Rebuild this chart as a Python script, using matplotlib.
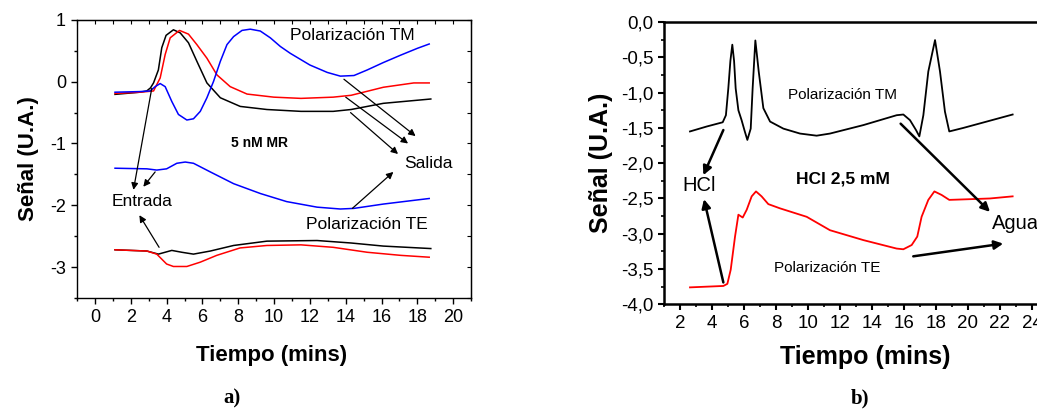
import matplotlib
matplotlib.use("Agg")
import matplotlib.pyplot as plt
from matplotlib.ticker import MultipleLocator, FuncFormatter

plt.rcParams['font.family'] = ['Liberation Sans', 'DejaVu Sans']
plt.rcParams['axes.unicode_minus'] = False

# ---------------- Panel a) 5 nM MR ----------------
t_a_tm_black = [1.12, 2.5, 2.89, 3.1, 3.27, 3.54, 3.73, 3.97, 4.38, 4.76, 5.22, 5.69, 6.25, 7.0, 8.11, 9.6, 11.5, 13.3, 14.3, 16.1, 18.75]
v_a_tm_black = [-0.205, -0.17, -0.15, -0.10, -0.02, 0.19, 0.55, 0.75, 0.84, 0.79, 0.63, 0.33, -0.02, -0.26, -0.40, -0.45, -0.48, -0.48, -0.45, -0.35, -0.28]

t_a_tm_red = [1.12, 2.5, 2.9, 3.27, 3.64, 3.92, 4.2, 4.72, 5.22, 5.69, 6.25, 6.81, 7.55, 8.49, 9.98, 11.5, 13.3, 14.3, 16.1, 17.8, 18.66]
v_a_tm_red = [-0.19, -0.17, -0.16, -0.15, 0.06, 0.44, 0.71, 0.83, 0.77, 0.60, 0.38, 0.11, -0.08, -0.20, -0.25, -0.27, -0.25, -0.22, -0.09, -0.02, -0.02]

t_a_tm_blue = [1.12, 2.5, 3.08, 3.36, 3.64, 3.92, 4.29, 4.66, 5.13, 5.5, 5.88, 6.25, 6.62, 7.0, 7.37, 7.74, 8.21, 8.67, 9.23, 9.79, 10.35, 10.9, 12.0, 12.97, 13.7, 14.46, 15.2, 16.1, 17.07, 18.0, 18.66]
v_a_tm_blue = [-0.17, -0.16, -0.15, -0.08, -0.03, -0.08, -0.32, -0.53, -0.62, -0.60, -0.48, -0.26, 0.005, 0.33, 0.60, 0.73, 0.83, 0.85, 0.82, 0.71, 0.57, 0.46, 0.27, 0.15, 0.09, 0.10, 0.19, 0.31, 0.43, 0.54, 0.61]

t_a_te_blue = [1.12, 2.9, 3.45, 4.0, 4.57, 5.04, 5.5, 6.44, 7.74, 9.24, 10.7, 12.4, 13.7, 14.46, 16.1, 17.8, 18.66]
v_a_te_blue = [-1.40, -1.41, -1.43, -1.41, -1.32, -1.30, -1.32, -1.46, -1.65, -1.81, -1.94, -2.03, -2.06, -2.05, -1.98, -1.92, -1.89]

t_a_te_black = [1.12, 2.9, 3.54, 4.29, 4.85, 5.5, 6.44, 7.74, 9.6, 12.4, 14.3, 16.1, 18.75]
v_a_te_black = [-2.72, -2.74, -2.79, -2.73, -2.76, -2.79, -2.74, -2.65, -2.58, -2.57, -2.61, -2.66, -2.70]

t_a_te_red = [1.12, 2.9, 3.45, 4.0, 4.38, 5.13, 5.88, 6.8, 8.1, 9.6, 11.5, 13.3, 15.2, 17.07, 18.66]
v_a_te_red = [-2.72, -2.74, -2.79, -2.95, -2.99, -2.99, -2.92, -2.81, -2.69, -2.65, -2.64, -2.68, -2.76, -2.81, -2.84]

# ---------------- Panel b) HCl 2,5 mM ----------------
t_b_tm = [2.625, 3.67, 4.67, 4.87, 5.02, 5.15, 5.27, 5.38, 5.48, 5.65, 5.85, 6.05, 6.21, 6.42, 6.54, 6.71, 6.92, 7.21, 7.63, 8.46, 9.5, 10.54, 11.375, 13.46, 15.54, 15.96, 16.375, 16.75, 16.96, 17.21, 17.52, 17.94, 18.25, 18.56, 18.83, 19.71, 21.17, 22.79]
v_b_tm = [-1.55, -1.48, -1.42, -1.32, -0.94, -0.55, -0.32, -0.55, -0.94, -1.25, -1.39, -1.55, -1.67, -1.51, -0.94, -0.26, -0.70, -1.22, -1.41, -1.51, -1.58, -1.61, -1.58, -1.46, -1.32, -1.31, -1.39, -1.53, -1.62, -1.32, -0.70, -0.255, -0.70, -1.27, -1.55, -1.50, -1.41, -1.31]

t_b_te = [2.625, 4.71, 4.96, 5.17, 5.44, 5.65, 5.92, 6.17, 6.48, 6.75, 7.1, 7.52, 8.25, 9.92, 11.375, 13.46, 15.54, 15.96, 16.48, 16.83, 17.1, 17.52, 17.9, 18.35, 18.83, 20.125, 21.375, 22.79]
v_b_te = [-3.76, -3.74, -3.71, -3.51, -3.04, -2.73, -2.77, -2.66, -2.47, -2.40, -2.47, -2.58, -2.64, -2.76, -2.95, -3.09, -3.21, -3.22, -3.16, -3.04, -2.76, -2.52, -2.40, -2.45, -2.52, -2.51, -2.50, -2.47]

x_ticks_a = list(range(0, 21, 2))
y_ticks_a = [1, 0, -1, -2, -3]
x_ticks_b = list(range(2, 25, 2))
y_ticks_b = [0.0, -0.5, -1.0, -1.5, -2.0, -2.5, -3.0, -3.5, -4.0]

fig = plt.figure(figsize=(10.37, 4.12), dpi=100)

# ---------- a) ----------
ax1 = fig.add_axes([0.0743, 0.2767, 0.380, 0.675])
ax1.plot(t_a_tm_black, v_a_tm_black, color='black', lw=1.1)
ax1.plot(t_a_tm_red, v_a_tm_red, color='red', lw=1.1)
ax1.plot(t_a_tm_blue, v_a_tm_blue, color='blue', lw=1.1)
ax1.plot(t_a_te_blue, v_a_te_blue, color='blue', lw=1.1)
ax1.plot(t_a_te_black, v_a_te_black, color='black', lw=1.1)
ax1.plot(t_a_te_red, v_a_te_red, color='red', lw=1.1)
ax1.set_xlim(-1, 21)
ax1.set_ylim(-3.5, 1)
ax1.set_xticks(x_ticks_a)
ax1.set_yticks(y_ticks_a)
ax1.xaxis.set_minor_locator(MultipleLocator(1))
ax1.yaxis.set_minor_locator(MultipleLocator(0.5))
ax1.tick_params(which='major', direction='out', length=4, width=1.0, labelsize=13, pad=4)
ax1.tick_params(which='minor', direction='out', length=2.5, width=1.0)
for s in ax1.spines.values():
    s.set_linewidth(1.0)
# mirrored inner ticks on the top and right axes
top1 = ax1.secondary_xaxis('top')
top1.set_xticks(x_ticks_a)
top1.xaxis.set_minor_locator(MultipleLocator(1))
top1.tick_params(which='both', direction='in', labeltop=False, length=3, width=0.8)
right1 = ax1.secondary_yaxis('right')
right1.set_yticks(y_ticks_a)
right1.yaxis.set_minor_locator(MultipleLocator(0.5))
right1.tick_params(which='both', direction='in', labelright=False, length=3, width=0.8)
ax1.set_ylabel('Señal (U.A.)', fontsize=16, fontweight='bold', labelpad=8)

arr_a = dict(arrowstyle='-|>', color='black', lw=0.9, mutation_scale=10, shrinkA=0, shrinkB=0)
for (x0, y0, x1, y1) in [(3.17, -0.11, 2.15, -1.75), (3.36, -1.46, 2.7, -1.70),
                         (3.58, -2.68, 2.48, -2.16), (13.9, 0.04, 17.9, -0.88),
                         (14.0, -0.25, 17.48, -1.0), (14.27, -0.50, 16.92, -1.17),
                         (14.37, -2.05, 16.66, -1.46)]:
    ax1.annotate('', xy=(x1, y1), xytext=(x0, y0), arrowprops=arr_a)

ax1.text(14.37, 0.74, 'Polarización TM', fontsize=12.5, ha='center', va='center')
ax1.text(18.64, -1.32, 'Salida', fontsize=12.5, ha='center', va='center')
ax1.text(2.65, -1.94, 'Entrada', fontsize=12.5, ha='center', va='center')
ax1.text(15.17, -2.31, 'Polarización TE', fontsize=12.5, ha='center', va='center')
ax1.text(9.18, -1.0, '5 nM MR', fontsize=10, fontweight='bold', ha='center', va='center')

# ---------- b) ----------
ax2 = fig.add_axes([0.6403, 0.2614, 0.3703, 0.685])
ax2.plot(t_b_tm, v_b_tm, color='black', lw=1.3)
ax2.plot(t_b_te, v_b_te, color='red', lw=1.3)
ax2.set_xlim(1, 25)
ax2.set_ylim(-4.0, 0.0)
ax2.set_xticks(x_ticks_b)
ax2.set_yticks(y_ticks_b)
ax2.xaxis.set_minor_locator(MultipleLocator(1))
ax2.yaxis.set_minor_locator(MultipleLocator(0.25))
ax2.yaxis.set_major_formatter(FuncFormatter(lambda v, p: f'{v:.1f}'.replace('.', ',')))
ax2.tick_params(which='major', direction='out', length=4.5, width=1.5, labelsize=13.5, pad=3)
ax2.tick_params(which='minor', direction='out', length=2.5, width=1.2)
for s in ax2.spines.values():
    s.set_linewidth(1.8)
ax2.set_ylabel('Señal (U.A.)', fontsize=18, fontweight='bold', labelpad=6)

arr_b = dict(arrowstyle='-|>', color='black', lw=1.8, mutation_scale=13, shrinkA=0, shrinkB=0)
for (x0, y0, x1, y1) in [(4.71, -1.53, 3.46, -2.17), (4.71, -3.69, 3.5, -2.51),
                         (15.79, -1.44, 21.375, -2.69), (16.58, -3.32, 22.2, -3.14)]:
    ax2.annotate('', xy=(x1, y1), xytext=(x0, y0), arrowprops=arr_b)

ax2.text(12.14, -1.03, 'Polarización TM', fontsize=11, ha='center', va='center')
ax2.text(12.19, -2.23, 'HCl 2,5 mM', fontsize=12.5, fontweight='bold', ha='center', va='center')
ax2.text(3.17, -2.31, 'HCl', fontsize=14.5, ha='center', va='center')
ax2.text(21.48, -2.85, 'Agua', fontsize=14.5, ha='left', va='center')
ax2.text(11.22, -3.48, 'Polarización TE', fontsize=11, ha='center', va='center')

# axis titles and panel letters
fig.text(272 / 1037, 1 - 355 / 412, 'Tiempo (mins)', fontsize=16, fontweight='bold', ha='center', va='center')
fig.text(865 / 1037, 1 - 357 / 412, 'Tiempo (mins)', fontsize=18, fontweight='bold', ha='center', va='center')
fig.text(232 / 1037, 1 - 398 / 412, 'a)', fontsize=15, fontweight='bold', family='Liberation Serif', ha='center', va='center')
fig.text(860 / 1037, 1 - 398 / 412, 'b)', fontsize=15, fontweight='bold', family='Liberation Serif', ha='center', va='center')

fig.savefig('out.png', dpi=100)
